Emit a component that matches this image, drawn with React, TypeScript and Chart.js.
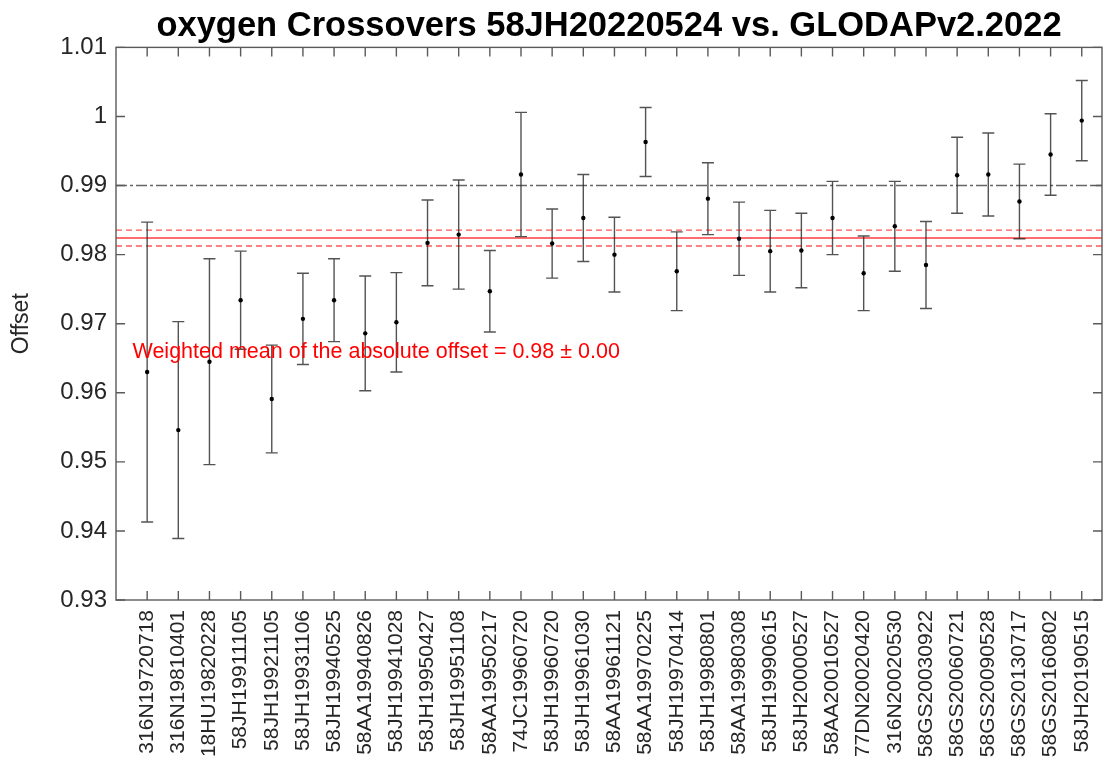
import React, { useEffect, useRef } from 'react';
import { Chart, registerables } from 'chart.js';

Chart.register(...registerables);

const TITLE = 'oxygen Crossovers 58JH20220524 vs. GLODAPv2.2022';
const Y_TITLE = 'Offset';

const CRUISES = [
  '316N19720718', '316N19810401', '18HU19820228', '58JH19911105', '58JH19921105',
  '58JH19931106', '58JH19940525', '58AA19940826', '58JH19941028', '58JH19950427',
  '58JH19951108', '58AA19950217', '74JC19960720', '58JH19960720', '58JH19961030',
  '58AA19961121', '58AA19970225', '58JH19970414', '58JH19980801', '58AA19980308',
  '58JH19990615', '58JH20000527', '58AA20010527', '77DN20020420', '316N20020530',
  '58GS20030922', '58GS20060721', '58GS20090528', '58GS20130717', '58GS20160802',
  '58JH20190515',
];

const OFFSETS = [
  0.9630, 0.9546, 0.9645, 0.9734, 0.9591, 0.9707, 0.9734, 0.9686, 0.9702, 0.9817,
  0.9829, 0.9747, 0.9916, 0.9816, 0.9853, 0.9800, 0.9963, 0.9776, 0.9881, 0.9823,
  0.9805, 0.9806, 0.9853, 0.9773, 0.9841, 0.9785, 0.9915, 0.9916, 0.9877, 0.9945,
  0.9994,
];

const ERRORS = [
  0.0217, 0.0157, 0.0149, 0.0071, 0.0078, 0.0066, 0.0060, 0.0083, 0.0072, 0.0062,
  0.0079, 0.0059, 0.0090, 0.0050, 0.0063, 0.0054, 0.0050, 0.0057, 0.0052, 0.0053,
  0.0059, 0.0054, 0.0053, 0.0054, 0.0065, 0.0063, 0.0055, 0.0060, 0.0054, 0.0059,
  0.0058,
];

const Y_TICKS = [0.93, 0.94, 0.95, 0.96, 0.97, 0.98, 0.99, 1.0, 1.01];
const Y_MIN = 0.93;
const Y_MAX = 1.01;
const X_MIN = 0;
const X_MAX = 31.65;

const REFERENCE_LEVEL = 0.99;
const WEIGHTED_MEAN = 0.9824;
const WEIGHTED_MEAN_ERR = 0.00115;

const ANNOTATION = 'Weighted mean of the absolute offset = 0.98 \u00b1 0.00';
const ANNOTATION_X = 0.53;
const ANNOTATION_Y = 0.9659;

const WIDTH = 1103;
const HEIGHT = 760;

const FONT = '"Liberation Sans", Arial, Helvetica, sans-serif';
const FRAME_COLOR = '#5a5a5a';
const TEXT_COLOR = '#262626';

const errorBarPlugin = {
  id: 'errorBars',
  afterDatasetsDraw(chart: any) {
    const { ctx, scales } = chart;
    const x = scales.x;
    const y = scales.y;
    ctx.save();
    ctx.strokeStyle = 'rgba(40,40,40,0.8)';
    ctx.lineWidth = 1.4;
    const cap = 6;
    OFFSETS.forEach((v, i) => {
      const px = x.getPixelForValue(i + 1);
      const pTop = y.getPixelForValue(v + ERRORS[i]);
      const pBot = y.getPixelForValue(v - ERRORS[i]);
      ctx.beginPath();
      ctx.moveTo(px, pTop);
      ctx.lineTo(px, pBot);
      ctx.moveTo(px - cap, pTop);
      ctx.lineTo(px + cap, pTop);
      ctx.moveTo(px - cap, pBot);
      ctx.lineTo(px + cap, pBot);
      ctx.stroke();
    });
    ctx.fillStyle = '#000';
    OFFSETS.forEach((v, i) => {
      const px = x.getPixelForValue(i + 1);
      const py = y.getPixelForValue(v);
      ctx.beginPath();
      ctx.arc(px, py, 2.2, 0, Math.PI * 2);
      ctx.fill();
    });
    ctx.fillStyle = '#ff0000';
    ctx.font = `21.5px ${FONT}`;
    ctx.textAlign = 'left';
    ctx.textBaseline = 'middle';
    ctx.fillText(ANNOTATION, x.getPixelForValue(ANNOTATION_X), y.getPixelForValue(ANNOTATION_Y));
    ctx.restore();
  },
};

const framePlugin = {
  id: 'frame',
  afterDraw(chart: any) {
    const { ctx, chartArea, scales } = chart;
    const { left, right, top, bottom } = chartArea;
    const tl = 9;
    ctx.save();
    ctx.strokeStyle = FRAME_COLOR;
    ctx.lineWidth = 1.4;
    ctx.strokeRect(left, top, right - left, bottom - top);
    ctx.beginPath();
    CRUISES.forEach((_, i) => {
      const px = scales.x.getPixelForValue(i + 1);
      ctx.moveTo(px, bottom);
      ctx.lineTo(px, bottom - tl);
      ctx.moveTo(px, top);
      ctx.lineTo(px, top + tl);
    });
    Y_TICKS.forEach((v) => {
      const py = scales.y.getPixelForValue(v);
      ctx.moveTo(left, py);
      ctx.lineTo(left + tl, py);
      ctx.moveTo(right, py);
      ctx.lineTo(right - tl, py);
    });
    ctx.stroke();
    ctx.restore();
  },
};

function hLine(level: number, color: string, dash: number[], width: number) {
  return {
    type: 'line' as const,
    data: [
      { x: X_MIN, y: level },
      { x: X_MAX, y: level },
    ],
    borderColor: color,
    borderDash: dash,
    borderWidth: width,
    pointRadius: 0,
    showLine: true,
    fill: false,
  };
}

export default function App() {
  const canvasRef = useRef<HTMLCanvasElement | null>(null);

  useEffect(() => {
    document.body.style.margin = '0';
    document.documentElement.style.overflow = 'hidden';
    const canvas = canvasRef.current;
    if (!canvas) return;
    const chart = new Chart(canvas, {
      type: 'scatter',
      data: {
        datasets: [
          hLine(REFERENCE_LEVEL, '#666666', [11, 3, 3, 3], 1.4),
          hLine(WEIGHTED_MEAN, 'rgba(255,40,40,0.9)', [], 1.4),
          hLine(WEIGHTED_MEAN + WEIGHTED_MEAN_ERR, 'rgba(255,60,60,0.85)', [6, 4], 1.4),
          hLine(WEIGHTED_MEAN - WEIGHTED_MEAN_ERR, 'rgba(255,60,60,0.85)', [6, 4], 1.4),
        ] as any,
      },
      options: {
        animation: false,
        responsive: false,
        maintainAspectRatio: false,
        devicePixelRatio: 1,
        layout: { padding: { left: 0, right: 1, top: 0, bottom: 0 } },
        plugins: {
          legend: { display: false },
          tooltip: { enabled: false },
          title: {
            display: true,
            text: TITLE,
            fullSize: false,
            color: '#000',
            font: { family: FONT, size: 34.5, weight: 'bold', lineHeight: 1.2 },
            padding: { top: 6, bottom: 0 },
          },
        },
        scales: {
          x: {
            type: 'linear',
            min: X_MIN,
            max: X_MAX,
            grid: { display: false, drawTicks: false },
            border: { display: false },
            afterBuildTicks: (s: any) => {
              s.ticks = CRUISES.map((_, i) => ({ value: i + 1 }));
            },
            afterFit: (s: any) => {
              s.height = 160;
              s.paddingLeft = 0;
              s.paddingRight = 0;
            },
            ticks: {
              autoSkip: false,
              maxRotation: 90,
              minRotation: 90,
              padding: 10,
              color: TEXT_COLOR,
              font: { family: FONT, size: 21 },
              callback: (v: any) => CRUISES[Math.round(v) - 1] ?? '',
            },
          },
          y: {
            type: 'linear',
            min: Y_MIN,
            max: Y_MAX,
            grid: { display: false, drawTicks: false },
            border: { display: false },
            afterBuildTicks: (s: any) => {
              s.ticks = Y_TICKS.map((v) => ({ value: v }));
            },
            afterFit: (s: any) => {
              s.width = 116;
              s.paddingTop = 0;
              s.paddingBottom = 0;
            },
            ticks: {
              padding: 9,
              color: TEXT_COLOR,
              font: { family: FONT, size: 24 },
              callback: (v: any) => String(Number(Number(v).toFixed(2))),
            },
            title: {
              display: true,
              text: Y_TITLE,
              color: TEXT_COLOR,
              font: { family: FONT, size: 23 },
              padding: { top: 8, bottom: 0 },
            },
          },
        },
      } as any,
      plugins: [errorBarPlugin, framePlugin],
    });
    return () => chart.destroy();
  }, []);

  return (
    <div
      style={{
        position: 'fixed',
        left: 0,
        top: 0,
        width: WIDTH,
        height: HEIGHT,
        overflow: 'hidden',
        background: '#fff',
      }}
    >
      <canvas ref={canvasRef} width={WIDTH} height={HEIGHT} style={{ display: 'block', width: WIDTH, height: HEIGHT }} />
    </div>
  );
}
